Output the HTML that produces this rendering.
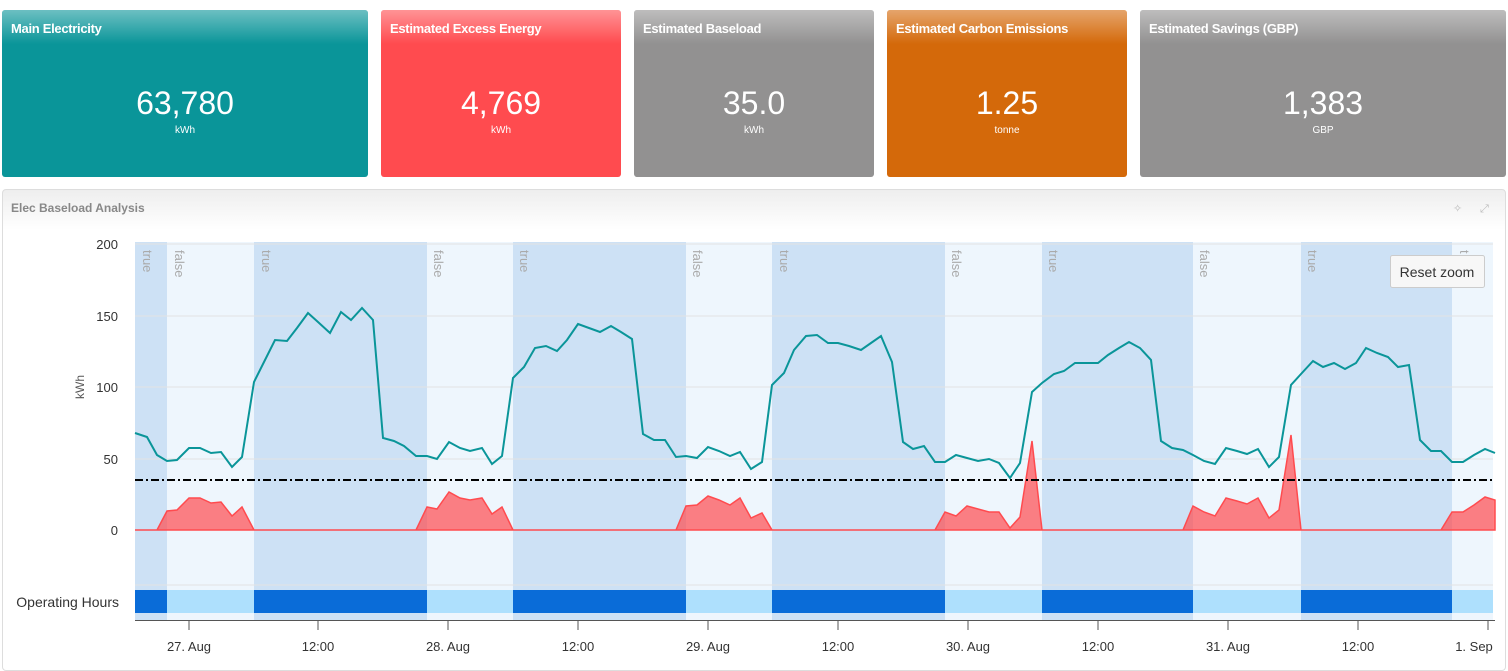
<!DOCTYPE html>
<html><head><meta charset="utf-8"><style>
body{margin:0;width:1508px;height:663px;background:#fff;font-family:"Liberation Sans",sans-serif;overflow:hidden;position:relative}
.card{position:absolute;top:10px;height:167px;border-radius:3px;color:#fff;text-align:center}
.card .t{position:absolute;left:9px;top:11px;font-size:13px;font-weight:bold;letter-spacing:-0.3px}
.card .v{position:absolute;left:0;right:0;top:75px;font-size:32px}
.card .u{position:absolute;left:0;right:0;top:115px;font-size:10px}
.card .g{position:absolute;left:0;right:0;top:0;height:34px;border-radius:3px 3px 0 0;background:linear-gradient(rgba(255,255,255,.4),rgba(255,255,255,0))}
</style></head><body>
<div class="card" style="left:2px;width:366px;background:#0a9599"><div class="g"></div><div class="t">Main Electricity</div><div class="v">63,780</div><div class="u">kWh</div></div>
<div class="card" style="left:381px;width:240px;background:#ff4b4f"><div class="g"></div><div class="t">Estimated Excess Energy</div><div class="v">4,769</div><div class="u">kWh</div></div>
<div class="card" style="left:634px;width:240px;background:#929191"><div class="g"></div><div class="t">Estimated Baseload</div><div class="v">35.0</div><div class="u">kWh</div></div>
<div class="card" style="left:887px;width:240px;background:#d4690a"><div class="g"></div><div class="t">Estimated Carbon Emissions</div><div class="v">1.25</div><div class="u">tonne</div></div>
<div class="card" style="left:1140px;width:366px;background:#929191"><div class="g"></div><div class="t">Estimated Savings (GBP)</div><div class="v">1,383</div><div class="u">GBP</div></div>
<div style="position:absolute;left:2px;top:189px;width:1502px;height:480px;border:1px solid #ddd;border-radius:4px;background:linear-gradient(#eee,#fff 40px)"></div>
<div style="position:absolute;left:11px;top:201px;font-size:12px;font-weight:bold;color:#888">Elec Baseload Analysis</div>
<svg style="position:absolute;left:0;top:0" width="1508" height="663" font-family="Liberation Sans, sans-serif">
<g fill="#cde1f5">
<rect x="135" y="242" width="32" height="378"/><rect x="254" y="242" width="173" height="378"/><rect x="513" y="242" width="173" height="378"/><rect x="772" y="242" width="173" height="378"/><rect x="1042" y="242" width="151" height="378"/><rect x="1301" y="242" width="151" height="378"/></g>
<g fill="#eef6fd">
<rect x="167" y="242" width="87" height="378"/><rect x="427" y="242" width="86" height="378"/><rect x="686" y="242" width="86" height="378"/><rect x="945" y="242" width="97" height="378"/><rect x="1193" y="242" width="108" height="378"/><rect x="1452" y="242" width="41" height="378"/></g>
<g stroke="#e3e3e3" stroke-width="1"><line x1="135" x2="1493" y1="244" y2="244"/><line x1="135" x2="1493" y1="316" y2="316"/><line x1="135" x2="1493" y1="387" y2="387"/><line x1="135" x2="1493" y1="459" y2="459"/><line x1="135" x2="1493" y1="585" y2="585"/></g>
<g fill="#aaa" font-size="13">
<text transform="translate(143,250) rotate(90)">true</text><text transform="translate(175,250) rotate(90)">false</text><text transform="translate(262,250) rotate(90)">true</text><text transform="translate(434,250) rotate(90)">false</text><text transform="translate(520,250) rotate(90)">true</text><text transform="translate(693,250) rotate(90)">false</text><text transform="translate(780,250) rotate(90)">true</text><text transform="translate(952,250) rotate(90)">false</text><text transform="translate(1049,250) rotate(90)">true</text><text transform="translate(1200,250) rotate(90)">false</text><text transform="translate(1308,250) rotate(90)">true</text><text transform="translate(1460,250) rotate(90)">t</text></g>
<g fill="#333" font-size="13" text-anchor="end"><text x="118" y="249">200</text><text x="118" y="321">150</text><text x="118" y="392">100</text><text x="118" y="464">50</text><text x="118" y="535">0</text><text x="119" y="607" font-size="14">Operating Hours</text></g>
<text transform="translate(84,387) rotate(-90)" font-size="12" fill="#555" text-anchor="middle">kWh</text>
<g fill="#0a6cd8"><rect x="135" y="590" width="32" height="23"/><rect x="254" y="590" width="173" height="23"/><rect x="513" y="590" width="173" height="23"/><rect x="772" y="590" width="173" height="23"/><rect x="1042" y="590" width="151" height="23"/><rect x="1301" y="590" width="151" height="23"/></g>
<g fill="#aee0fd"><rect x="167" y="590" width="87" height="23"/><rect x="427" y="590" width="86" height="23"/><rect x="686" y="590" width="86" height="23"/><rect x="945" y="590" width="97" height="23"/><rect x="1193" y="590" width="108" height="23"/><rect x="1452" y="590" width="41" height="23"/></g>
<path d="M135,530 L157,530 167,511 177,510 189,498 200,498 211,503 221,502 232,516 242,507 254,530 416,530 427,507 437,509 449,492 460,498 470,500 482,498 492,514 502,507 513,530 676,530 686,506 697,505 708,496 719,500 730,505 740,498 751,518 762,513 772,530 935,530 945,512 956,516 967,506 978,509 989,512 999,512 1010,528 1020,517 1032,441 1042,530 1183,530 1193,506 1204,512 1215,516 1226,498 1237,501 1247,504 1258,498 1269,518 1279,510 1291,435 1301,530 1441,530 1452,512 1463,512 1474,505 1485,497 1495,500 1495,530Z" fill="rgba(255,75,79,0.7)" stroke="#ff4b4f" stroke-width="1.5"/>
<line x1="135" x2="1495" y1="480" y2="480" stroke="#000" stroke-width="2" stroke-dasharray="8,3,2,3"/>
<polyline fill="none" stroke="#0a9599" stroke-width="2" points="135,433 147,437 157,455 167,461 177,460 189,448 200,448 211,453 221,452 232,467 242,457 254,382 264,362 275,340 287,341 297,328 308,313 318,322 330,333 341,312 351,320 362,308 373,320 383,438 394,441 404,446 416,456 427,456 437,459 449,442 460,448 470,451 482,448 492,464 502,456 513,378 524,367 535,348 546,346 557,351 567,340 578,324 589,328 600,332 611,326 621,332 632,339 643,434 654,440 665,440 676,457 686,456 697,458 708,447 719,451 730,456 740,452 751,469 762,462 772,385 784,373 794,350 806,336 817,335 828,343 838,343 849,346 861,350 871,343 881,336 892,362 903,442 913,449 924,446 935,462 945,462 956,455 967,458 978,461 989,459 999,463 1010,478 1020,463 1032,392 1042,383 1054,374 1064,371 1075,363 1087,363 1098,363 1108,355 1119,348 1129,342 1140,348 1151,360 1161,441 1172,448 1183,450 1193,455 1204,461 1215,464 1226,448 1237,451 1247,454 1258,449 1269,467 1279,457 1291,385 1301,374 1313,361 1323,367 1334,363 1345,369 1356,363 1366,348 1377,353 1388,357 1398,367 1409,365 1420,440 1431,451 1441,451 1452,462 1463,462 1474,455 1485,449 1495,453"/>
<line x1="135" x2="1495" y1="620.5" y2="620.5" stroke="#555" stroke-width="1"/>
<g stroke="#555"><line x1="189" x2="189" y1="620" y2="630"/><line x1="318" x2="318" y1="620" y2="630"/><line x1="448" x2="448" y1="620" y2="630"/><line x1="578" x2="578" y1="620" y2="630"/><line x1="708" x2="708" y1="620" y2="630"/><line x1="838" x2="838" y1="620" y2="630"/><line x1="968" x2="968" y1="620" y2="630"/><line x1="1098" x2="1098" y1="620" y2="630"/><line x1="1228" x2="1228" y1="620" y2="630"/><line x1="1358" x2="1358" y1="620" y2="630"/><line x1="1488" x2="1488" y1="620" y2="630"/></g>
<g fill="#333" font-size="13" text-anchor="middle"><text x="189" y="651">27. Aug</text><text x="318" y="651">12:00</text><text x="448" y="651">28. Aug</text><text x="578" y="651">12:00</text><text x="708" y="651">29. Aug</text><text x="838" y="651">12:00</text><text x="968" y="651">30. Aug</text><text x="1098" y="651">12:00</text><text x="1228" y="651">31. Aug</text><text x="1358" y="651">12:00</text><text x="1474" y="651">1. Sep</text></g>
<rect x="1390.5" y="255.5" width="94" height="32" rx="2" fill="#f7f7f7" stroke="#ccc"/>
<text x="1437" y="277" font-size="14" fill="#333" text-anchor="middle">Reset zoom</text>
<g fill="#bbb" font-size="11"><text x="1453" y="212">✧</text><text x="1480" y="212">⤢</text></g>
</svg>
</body></html>
